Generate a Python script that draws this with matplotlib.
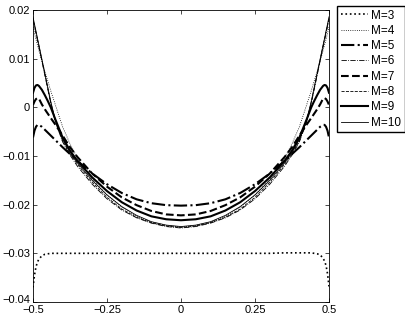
import numpy as np
import matplotlib
matplotlib.use("Agg")
import matplotlib.pyplot as plt
import matplotlib.transforms as mtransforms

plt.rcParams['font.family'] = ['Liberation Sans', 'DejaVu Sans']

x = [-0.5, -0.495, -0.49, -0.485, -0.48, -0.47, -0.46, -0.45, -0.44, -0.425,
     -0.4, -0.375, -0.35, -0.3, -0.25, -0.2, -0.15, -0.1, -0.05, 0.0,
     0.05, 0.1, 0.15, 0.2, 0.25, 0.3, 0.35, 0.375, 0.4,
     0.425, 0.44, 0.45, 0.46, 0.47, 0.48, 0.485, 0.49, 0.495, 0.5]

m3 = [-0.0370, -0.0345, -0.0328, -0.0318, -0.0312, -0.0305, -0.0302, -0.0301, -0.0300, -0.0300,
      -0.0300, -0.0300, -0.0300, -0.0300, -0.0300, -0.0300, -0.0300, -0.0300, -0.0300, -0.0300,
      -0.0300, -0.0300, -0.0300, -0.0300, -0.0300, -0.0300, -0.0299, -0.0299, -0.0299,
      -0.0299, -0.0299, -0.0300, -0.0301, -0.0303, -0.0310, -0.0316, -0.0325, -0.0342, -0.0368]

m4 = [0.0165, 0.0152, 0.0140, 0.0128, 0.0117, 0.0095, 0.0074, 0.0054, 0.0034, 0.0006,
      -0.0040, -0.0075, -0.0104, -0.0148, -0.0180, -0.0205, -0.0224, -0.0236, -0.0243, -0.0246,
      -0.0243, -0.0236, -0.0224, -0.0205, -0.0180, -0.0148, -0.0104, -0.0075, -0.0040,
      0.0006, 0.0034, 0.0054, 0.0074, 0.0095, 0.0117, 0.0128, 0.0140, 0.0152, 0.0165]

m5 = [-0.0062, -0.0048, -0.0040, -0.0036, -0.0036, -0.0040, -0.0046, -0.0052, -0.0058, -0.0067,
      -0.0082, -0.0096, -0.0110, -0.0136, -0.0158, -0.0176, -0.0189, -0.0197, -0.0201, -0.0202,
      -0.0201, -0.0197, -0.0189, -0.0176, -0.0158, -0.0136, -0.0110, -0.0096, -0.0082,
      -0.0067, -0.0058, -0.0052, -0.0046, -0.0040, -0.0036, -0.0036, -0.0040, -0.0048, -0.0062]

m6 = [0.0180, 0.0166, 0.0152, 0.0138, 0.0124, 0.0095, 0.0066, 0.0037, 0.0008, -0.0029,
      -0.0071, -0.0098, -0.0121, -0.0158, -0.0188, -0.0211, -0.0227, -0.0238, -0.0245, -0.0248,
      -0.0245, -0.0238, -0.0227, -0.0211, -0.0188, -0.0158, -0.0121, -0.0098, -0.0071,
      -0.0029, 0.0008, 0.0037, 0.0066, 0.0095, 0.0124, 0.0138, 0.0152, 0.0166, 0.0180]

m7 = [0.0005, 0.0012, 0.0017, 0.0019, 0.0018, 0.0006, -0.0004, -0.0013, -0.0022, -0.0035,
      -0.0058, -0.0082, -0.0102, -0.0136, -0.0163, -0.0185, -0.0201, -0.0213, -0.0220, -0.0222,
      -0.0220, -0.0213, -0.0201, -0.0185, -0.0163, -0.0136, -0.0102, -0.0082, -0.0058,
      -0.0035, -0.0022, -0.0013, -0.0004, 0.0006, 0.0018, 0.0019, 0.0017, 0.0012, 0.0005]

m8 = [0.0183, 0.0168, 0.0154, 0.0140, 0.0126, 0.0097, 0.0068, 0.0039, 0.0010, -0.0027,
      -0.0069, -0.0095, -0.0117, -0.0154, -0.0185, -0.0209, -0.0226, -0.0237, -0.0244, -0.0247,
      -0.0244, -0.0237, -0.0226, -0.0209, -0.0185, -0.0154, -0.0117, -0.0095, -0.0069,
      -0.0027, 0.0010, 0.0039, 0.0068, 0.0097, 0.0126, 0.0140, 0.0154, 0.0168, 0.0183]

m9 = [0.0030, 0.0040, 0.0045, 0.0046, 0.0044, 0.0036, 0.0025, 0.0013, 0.0000, -0.0024,
      -0.0062, -0.0089, -0.0110, -0.0144, -0.0172, -0.0195, -0.0212, -0.0224, -0.0230, -0.0232,
      -0.0230, -0.0224, -0.0212, -0.0195, -0.0172, -0.0144, -0.0110, -0.0089, -0.0062,
      -0.0024, 0.0000, 0.0013, 0.0025, 0.0036, 0.0044, 0.0046, 0.0045, 0.0040, 0.0030]

m10 = [0.0186, 0.0171, 0.0157, 0.0142, 0.0128, 0.0099, 0.0070, 0.0041, 0.0012, -0.0025,
       -0.0066, -0.0092, -0.0114, -0.0150, -0.0180, -0.0204, -0.0222, -0.0235, -0.0242, -0.0245,
       -0.0242, -0.0235, -0.0222, -0.0204, -0.0180, -0.0150, -0.0114, -0.0092, -0.0066,
       -0.0025, 0.0012, 0.0041, 0.0070, 0.0099, 0.0128, 0.0142, 0.0157, 0.0171, 0.0186]

series = [m3, m4, m5, m6, m7, m8, m9, m10]
labels = ['M=3', 'M=4', 'M=5', 'M=6', 'M=7', 'M=8', 'M=9', 'M=10']
styles = [':', ':', '-.', '-.', '--', '--', '-', '-']
widths = [1.2, 0.6, 1.5, 0.6, 1.5, 0.6, 1.5, 0.6]

fig = plt.figure(figsize=(4.05, 3.16), dpi=100)
ax = fig.add_axes([33/405, 14/316, 296/405, 292/316])

for y, lab, ls, lw in zip(series, labels, styles, widths):
    ax.plot(x, y, color='black', linestyle=ls, linewidth=lw, label=lab)

ax.set_xlim(-0.5, 0.5)
ax.set_ylim(-0.04, 0.02)
ax.set_xticks([-0.5, -0.25, 0, 0.25, 0.5])
ax.set_xticklabels(['\u22120.5', '\u22120.25', '0', '0.25', '0.5'])
ax.set_yticks([-0.04, -0.03, -0.02, -0.01, 0, 0.01, 0.02])
ax.set_yticklabels(['\u22120.04', '\u22120.03', '\u22120.02', '\u22120.01', '0', '0.01', '0.02'])
ax.tick_params(direction='in', top=True, right=True, labelsize=8, length=3, width=0.5, pad=2)
ax.tick_params(axis='x', pad=2.5)
# nudge the lowest y label up a little so it clears the -0.5 label
lowest = ax.get_yticklabels()[0]
lowest.set_transform(lowest.get_transform() +
                     mtransforms.ScaledTranslation(0, 2/72, fig.dpi_scale_trans))
for s in ax.spines.values():
    s.set_linewidth(0.6)

fig.legend(loc='upper left', bbox_to_anchor=(337/405, 1 - 6/316), fontsize=8.5,
           frameon=True, fancybox=False, edgecolor='black', framealpha=1,
           handlelength=2.3, handletextpad=0.3, labelspacing=0.28, borderpad=0.3,
           borderaxespad=0)

fig.savefig('out.png', dpi=100)
